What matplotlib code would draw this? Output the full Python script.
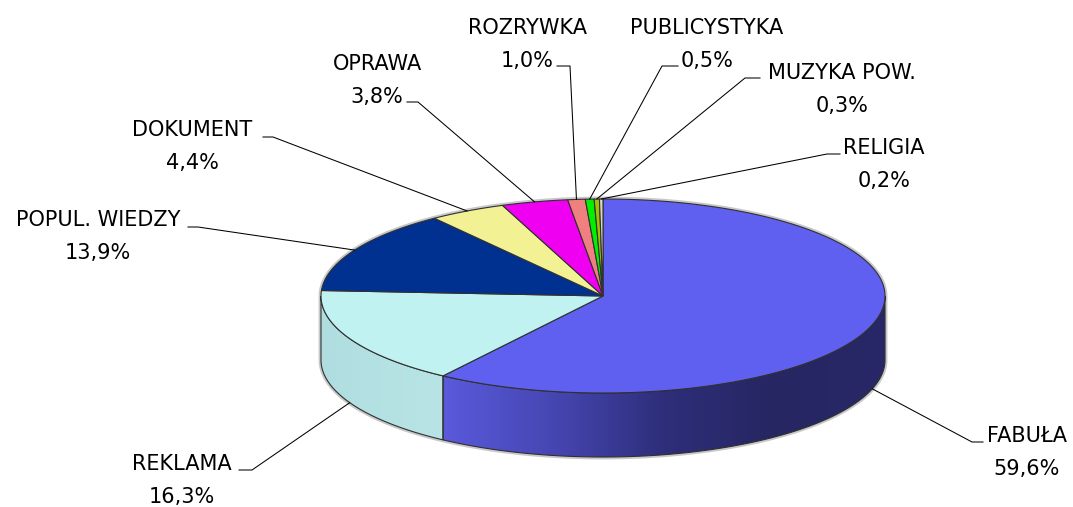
import numpy as np
import matplotlib
matplotlib.use('Agg')
import matplotlib.pyplot as plt
from matplotlib.patches import Polygon

# ------------ Data ---------------
categories = ['FABUŁA', 'REKLAMA', 'POPUL. WIEDZY', 'DOKUMENT', 'OPRAWA',
              'ROZRYWKA', 'PUBLICYSTYKA', 'MUZYKA POW.', 'RELIGIA']
shares = [59.6, 16.3, 13.9, 4.4, 3.8, 1.0, 0.5, 0.3, 0.2]

top_colors = ['#6060F0', '#C0F2F2', '#003090', '#F2F294', '#F000F0',
              '#F08080', '#00F000', '#A0C000', '#D8D8C8']
# shades of the visible rim, left to right
side_shades = [[(90, 90, 220), (70, 70, 178), (46, 46, 122), (38, 38, 98), (40, 40, 104)],
               [(176, 222, 224), (184, 228, 229)]]

# ------------ Layout (pixels) ---------------
W, H = 1073, 507
cx, cy = 603, 296
rx, ry = 282, 97
depth = 64

# label: text centre x, baseline of first line, elbow of leader, tail of leader
label_pos = [(1027, 442, (972, 442), (983, 442)),
             (182, 470, (252, 470), (239, 470)),
             (98, 226, (198, 227), (188, 227)),
             (192, 136, (273, 137), (263, 137)),
             (377, 70, (418, 102), (407, 102)),
             (527, 34, (570, 66), (557, 66)),
             (707, 34, (662, 66), (678, 66)),
             (842, 79, (745, 78), (760, 78)),
             (884, 154, (827, 154), (840, 154))]
line_gap = 33


def ell(t, dy=0.0):
    t = np.radians(t)
    return cx + rx * np.cos(t), cy - ry * np.sin(t) + dy


fig = plt.figure(figsize=(W / 100, H / 100), dpi=100)
ax = fig.add_axes([0, 0, 1, 1])
ax.set_xlim(0, W)
ax.set_ylim(H, 0)
ax.axis('off')

cum = np.concatenate([[0], np.cumsum(shares)])
bounds = 90 - 360 * cum / 100.0   # clockwise from 12 o'clock
edge = '#303030'

# soft halo round the whole pie
t_up = np.linspace(0, 180, 200)
t_dn = np.linspace(180, 360, 200)
xs = np.concatenate([ell(t_up)[0], ell(t_dn)[0]])
ys = np.concatenate([ell(t_up)[1], ell(t_dn, depth)[1]])
ax.add_patch(Polygon(np.c_[xs, ys], closed=True, fc='none', ec='#C8C8C8', lw=3.5, zorder=1))

# rim (front side) of the slices that face the viewer
for i in range(len(shares)):
    hi, lo = bounds[i], bounds[i + 1]
    a, b = max(lo, -180), min(hi, 0)
    if a >= b:
        continue
    t = np.linspace(a, b, 120)
    x_top, y_top = ell(t)
    x_bot, y_bot = ell(t[::-1], depth)
    pts = np.c_[np.r_[x_top, x_bot], np.r_[y_top, y_bot]]
    poly = Polygon(pts, closed=True, fc='none', ec=edge, lw=0.8, zorder=3)
    ax.add_patch(poly)
    shades = np.array(side_shades[i], dtype=float) / 255.0
    n = 256
    pos = np.linspace(0, 1, len(shades))
    grad = np.stack([np.interp(np.linspace(0, 1, n), pos, shades[:, k]) for k in range(3)], axis=-1)
    x0, x1 = pts[:, 0].min(), pts[:, 0].max()
    y0, y1 = pts[:, 1].min(), pts[:, 1].max()
    im = ax.imshow(grad[None, :, :], extent=(x0, x1, y1, y0), aspect='auto', zorder=2,
                   interpolation='bilinear')
    clip = Polygon(pts, closed=True, fc='none', ec='none', transform=ax.transData)
    im.set_clip_path(clip)

# top face
for i in range(len(shares)):
    hi, lo = bounds[i], bounds[i + 1]
    t = np.linspace(hi, lo, max(4, int(abs(hi - lo) * 2)))
    x, y = ell(t)
    pts = np.c_[np.r_[cx, x], np.r_[cy, y]]
    ax.add_patch(Polygon(pts, closed=True, fc=top_colors[i], ec=edge, lw=0.8, zorder=4))

# labels with leader lines
for i, name in enumerate(categories):
    tx, base, elbow, tail = label_pos[i]
    mid = (bounds[i] + bounds[i + 1]) / 2.0
    front = np.sin(np.radians(mid)) < 0
    axx, ayy = ell(mid, depth if front else 0)
    ax.plot([axx, elbow[0], tail[0]], [ayy, elbow[1], tail[1]], color='black', lw=0.75, zorder=5)
    pct = f'{shares[i]:.1f}'.replace('.', ',') + '%'
    ax.text(tx, base, name, ha='center', va='baseline', fontsize=15,
            family='DejaVu Sans', color='black', zorder=6)
    ax.text(tx, base + line_gap, pct, ha='center', va='baseline', fontsize=15,
            family='DejaVu Sans', color='black', zorder=6)

fig.savefig('out.png', dpi=100, facecolor='white')
